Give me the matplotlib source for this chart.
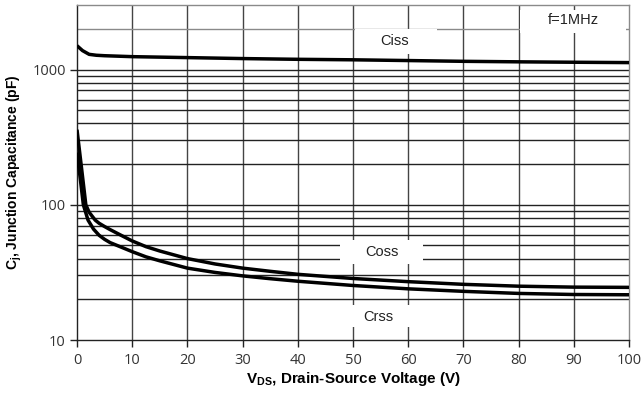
import matplotlib
matplotlib.use("Agg")
import matplotlib.pyplot as plt
from matplotlib.patches import Rectangle
from matplotlib.ticker import FixedLocator, NullFormatter, NullLocator

plt.rcParams['font.family'] = ['Liberation Sans', 'DejaVu Sans']
plt.rcParams['mathtext.fontset'] = 'custom'
plt.rcParams['mathtext.rm'] = 'Liberation Sans:bold'
plt.rcParams['mathtext.bf'] = 'Liberation Sans:bold'
plt.rcParams['mathtext.it'] = 'Liberation Sans:bold'

# Capacitance vs drain-source voltage (f = 1 MHz)
ciss_v = [0, 1, 2.2, 3.5, 5, 10, 20, 30, 40, 50, 60, 70, 80, 90, 100]
ciss_pf = [1500, 1380, 1295, 1275, 1265, 1245, 1225, 1205, 1190, 1180, 1165, 1150, 1140, 1132, 1125]

coss_v = [0, 0.8, 1.6, 2.2, 3.3, 4, 5, 6, 7.8, 10, 12.5, 15, 20, 25, 30, 35, 40,
          50, 60, 70, 80, 90, 100]
coss_pf = [359, 190, 100, 88, 77, 73, 69, 65.5, 60, 54, 49, 45.5, 40, 36.5, 34, 32.2, 30.6,
           28.5, 27.0, 25.8, 25.0, 24.6, 24.5]

crss_v = [0, 0.6, 1.15, 2, 3, 4, 5, 6, 7.8, 10, 12.5, 15, 20, 25, 30, 35, 40,
          50, 60, 70, 80, 90, 100]
crss_pf = [243, 155, 100, 77, 66, 59.5, 55.5, 52.5, 49, 45, 41.2, 38.5, 34, 31.6, 29.8, 28.4, 27.2,
           25.3, 23.9, 22.9, 22.1, 21.7, 21.6]

x_ticks = list(range(0, 101, 10))
y_major = [10, 100, 1000]
y_major_labels = ['10', '100', '1000']
y_grid = [20, 30, 40, 50, 60, 70, 80, 90,
          200, 300, 400, 500, 600, 700, 800, 900, 2000]

fig = plt.figure(figsize=(6.42, 3.99), dpi=100)
ax = fig.add_axes([77 / 642, 59 / 399, 552 / 642, 335 / 399])
ax.set_yscale('log')
ax.set_xlim(0, 100)
ax.set_ylim(10, 3000)

# grid
for xv in x_ticks[1:-1]:
    ax.axvline(xv, color='#444444', lw=1.0, zorder=1)
for yv in y_grid:
    c = '#8a8a8a' if yv == 2000 else '#222222'
    ax.axhline(yv, color=c, lw=1.0, zorder=1)
ax.axhline(100, color='#222222', lw=1.0, zorder=1)
ax.axhline(1000, color='#222222', lw=1.0, zorder=1)

# label boxes that mask the grid
boxes = [(0.504, 0.854, 0.148, 0.074),
         (0.476, 0.227, 0.151, 0.072),
         (0.486, 0.039, 0.126, 0.065),
         (0.803, 0.916, 0.192, 0.069)]
for bx, by, bw, bh in boxes:
    ax.add_patch(Rectangle((bx, by), bw, bh, transform=ax.transAxes,
                           facecolor='white', edgecolor='none', zorder=2))

line_kw = dict(color='black', lw=2.5, zorder=4, solid_capstyle='butt',
               solid_joinstyle='round')
ax.plot(ciss_v, ciss_pf, **line_kw)
ax.plot(coss_v, coss_pf, **line_kw)
ax.plot(crss_v, crss_pf, **line_kw)

txt = dict(transform=ax.transAxes, ha='center', va='center', fontsize=10.5,
           color='#222222', zorder=5)
ax.text(0.576, 0.893, 'Ciss', **txt)
ax.text(0.553, 0.263, 'Coss', **txt)
ax.text(0.545, 0.069, 'Crss', **txt)
ax.text(0.899, 0.955, 'f=1MHz', **txt)

# axes styling
ax.yaxis.set_major_locator(FixedLocator(y_major))
ax.set_yticklabels(y_major_labels)
ax.yaxis.set_minor_locator(NullLocator())
ax.yaxis.set_minor_formatter(NullFormatter())
ax.set_xticks(x_ticks)
ax.set_xticklabels([str(v) for v in x_ticks])
ax.tick_params(axis='both', which='major', direction='out', length=5,
               width=1.0, color='#222222', labelsize=10.5, labelcolor='#333333')
ax.tick_params(axis='y', pad=3)
ax.tick_params(axis='x', pad=4)
for lbl in ax.get_xticklabels() + ax.get_yticklabels():
    lbl.set_family(['Open Sans', 'DejaVu Sans'])

ax.spines['left'].set_color('#222222')
ax.spines['bottom'].set_color('#222222')
ax.spines['top'].set_color('#8a8a8a')
ax.spines['right'].set_color('#8a8a8a')
for s in ax.spines.values():
    s.set_linewidth(1.0)

ax.set_xlabel(r'V$_{\mathbf{DS}}$, Drain-Source Voltage (V)', fontsize=11,
              fontweight='bold', labelpad=2)
ax.set_ylabel(r'C$_{\mathbf{j}}$, Junction Capacitance (pF)', fontsize=10,
              fontweight='bold', labelpad=6)

fig.savefig('out.png', dpi=100)
